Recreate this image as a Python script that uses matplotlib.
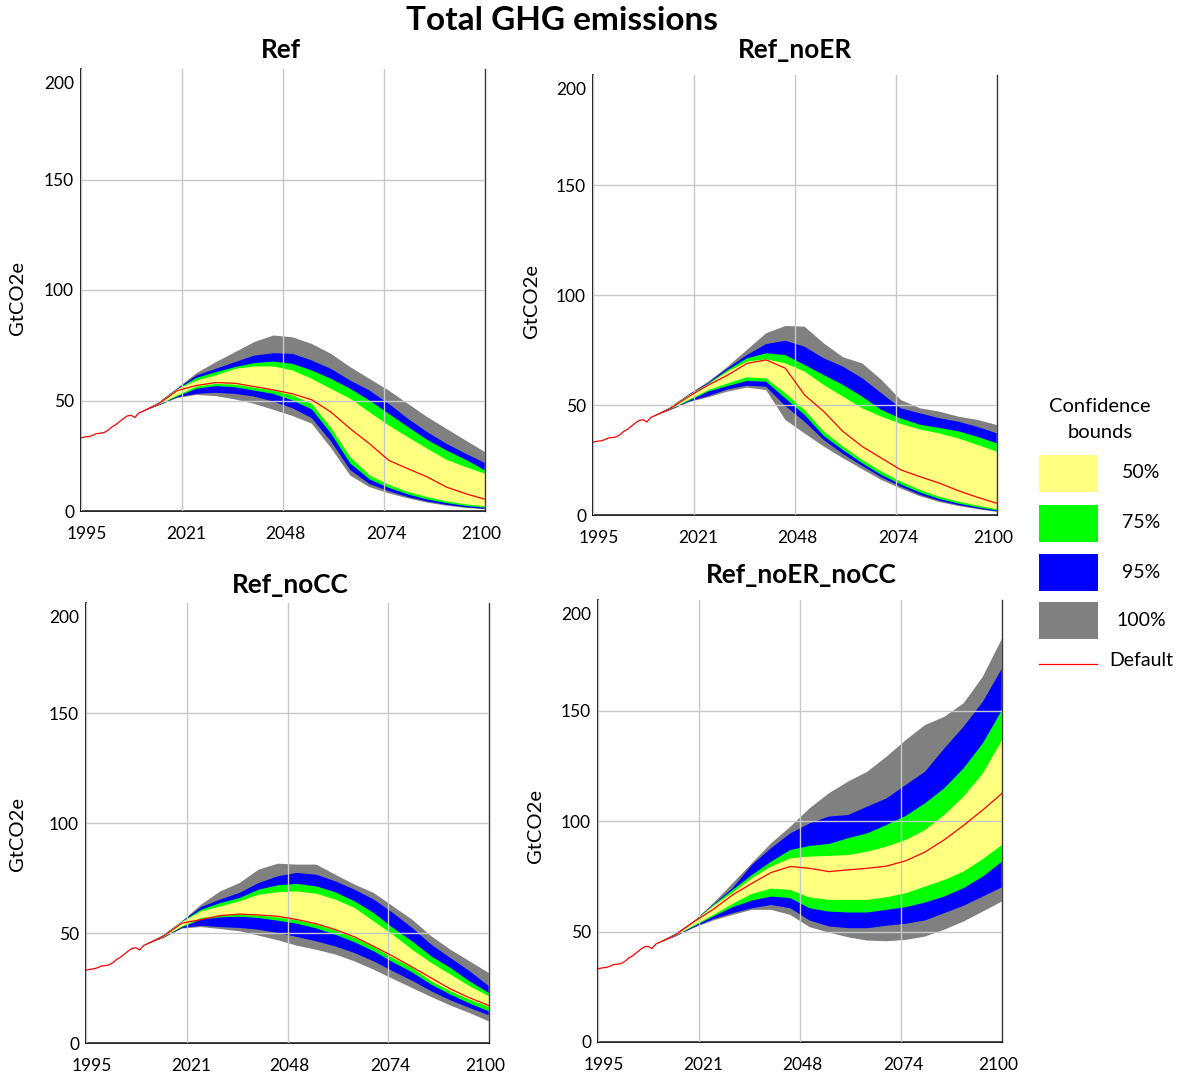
import numpy as np
import matplotlib
matplotlib.use('Agg')
import matplotlib.pyplot as plt
from matplotlib.patches import Rectangle
from matplotlib.transforms import ScaledTranslation

plt.rcParams['font.family'] = ['Lato', 'DejaVu Sans']

# historical emissions, shared by every run (GtCO2e)
hist_years = [1995, 1996, 1997, 1998, 1999, 2000, 2001, 2002, 2003, 2004,
              2005, 2006, 2007, 2008, 2009, 2010]
hist_ghg = [33.1, 33.5, 33.7, 34.2, 35.0, 35.2, 35.5, 36.5, 38.0, 39.0,
            40.4, 41.8, 43.0, 43.3, 42.3, 44.3]

proj_years = [2015, 2020, 2025, 2030, 2035, 2040, 2045, 2050, 2055, 2060,
              2065, 2070, 2075, 2080, 2085, 2090, 2095, 2100]

# Ref
ref_default = [48.3, 54.5, 56.8, 58.1, 57.8, 56.3, 54.8, 53.0, 50.3, 44.7, 37.2, 30.4, 22.9, 19.1, 15.4, 10.8, 7.8, 5.3]
ref_hi50 = [48.6, 55.0, 59.0, 61.3, 64.3, 65.4, 65.4, 63.6, 59.8, 55.3, 50.8, 44.7, 38.7, 33.4, 28.2, 23.2, 19.9, 16.9]
ref_hi75 = [48.7, 55.1, 60.2, 62.8, 65.1, 66.9, 67.6, 66.6, 63.6, 59.8, 55.3, 50.0, 44.0, 38.0, 32.2, 27.4, 23.2, 18.4]
ref_hi95 = [48.8, 55.3, 61.3, 64.3, 67.3, 70.3, 71.4, 71.1, 68.1, 64.3, 59.0, 54.5, 48.5, 41.7, 35.7, 30.4, 25.9, 21.7]
ref_hi100 = [48.9, 55.5, 62.3, 67.3, 71.8, 76.4, 79.4, 78.6, 75.6, 71.1, 65.1, 59.8, 54.5, 48.5, 42.5, 37.2, 31.9, 26.7]
ref_lo50 = [48.0, 52.3, 56.3, 57.5, 57.2, 55.8, 54.5, 52.3, 48.5, 37.5, 24.4, 16.1, 11.9, 8.6, 6.3, 4.4, 3.0, 2.1]
ref_lo75 = [47.9, 51.8, 55.3, 56.5, 56.0, 54.5, 53.0, 50.0, 46.0, 35.0, 21.5, 14.3, 10.5, 7.5, 5.2, 3.6, 2.3, 1.5]
ref_lo95 = [47.7, 51.4, 53.0, 53.5, 53.0, 51.8, 49.5, 46.5, 42.0, 31.5, 18.5, 12.2, 9.0, 6.3, 4.3, 2.8, 1.7, 1.0]
ref_lo100 = [47.6, 51.1, 52.5, 52.0, 50.5, 48.5, 45.8, 43.0, 39.5, 28.5, 16.0, 10.8, 8.0, 5.7, 3.8, 2.4, 1.4, 0.8]

# Ref_noER
noer_default = [48.3, 54.0, 59.1, 63.6, 68.9, 70.5, 66.7, 54.5, 47.0, 37.9, 31.1, 25.8, 20.5, 17.4, 14.5, 11.0, 8.0, 5.3]
noer_hi50 = [48.6, 54.5, 59.5, 65.2, 69.7, 70.8, 68.9, 65.2, 59.1, 53.8, 48.5, 44.7, 41.4, 38.9, 37.1, 34.8, 31.8, 28.8]
noer_hi75 = [48.7, 54.6, 59.8, 65.9, 71.2, 73.5, 72.7, 68.2, 63.6, 59.1, 53.8, 47.7, 43.9, 41.0, 39.6, 38.0, 35.5, 32.6]
noer_hi95 = [48.8, 54.8, 60.2, 66.7, 72.7, 77.7, 79.2, 76.5, 71.2, 67.4, 62.1, 55.3, 48.5, 46.2, 44.0, 42.4, 40.0, 37.1]
noer_hi100 = [48.9, 55.0, 60.6, 67.4, 75.0, 82.6, 85.9, 85.6, 78.0, 71.7, 68.9, 61.4, 52.3, 48.5, 47.0, 44.7, 43.2, 40.9]
noer_lo50 = [48.0, 52.5, 56.8, 59.8, 62.6, 62.1, 55.3, 47.7, 37.9, 31.1, 25.0, 19.7, 15.2, 11.4, 8.3, 6.1, 4.2, 2.7]
noer_lo75 = [47.9, 52.0, 56.1, 58.6, 60.9, 60.6, 53.0, 45.5, 35.9, 29.5, 23.5, 18.2, 13.9, 10.2, 7.3, 5.2, 3.5, 2.1]
noer_lo95 = [47.7, 51.6, 54.1, 57.1, 58.8, 58.3, 49.5, 42.4, 34.1, 27.7, 22.3, 17.1, 12.9, 9.2, 6.5, 4.5, 3.0, 1.7]
noer_lo100 = [47.6, 51.3, 53.5, 56.1, 57.9, 56.8, 43.2, 37.1, 31.1, 25.8, 20.8, 15.9, 12.0, 8.5, 5.9, 4.1, 2.6, 1.4]

# Ref_noCC
nocc_default = [48.3, 54.5, 56.1, 57.9, 58.6, 58.2, 57.6, 56.1, 54.2, 51.5, 48.2, 43.9, 39.4, 34.5, 29.5, 24.5, 20.5, 17.0]
nocc_hi50 = [48.6, 55.0, 59.8, 62.1, 64.4, 67.4, 68.6, 68.9, 67.9, 65.2, 61.4, 55.3, 49.2, 42.4, 36.4, 31.1, 25.8, 21.2]
nocc_hi75 = [48.7, 55.1, 60.6, 63.6, 65.9, 69.7, 71.7, 72.3, 71.2, 68.5, 64.4, 59.1, 52.3, 46.2, 39.4, 34.1, 28.0, 22.7]
nocc_hi95 = [48.8, 55.2, 61.8, 65.2, 68.2, 72.7, 75.8, 77.3, 76.5, 73.5, 69.7, 65.2, 59.1, 52.3, 44.7, 38.6, 32.6, 25.8]
nocc_hi100 = [48.9, 55.3, 62.9, 68.9, 72.7, 78.8, 81.5, 81.1, 81.1, 76.5, 72.0, 68.2, 62.1, 56.1, 48.5, 42.4, 37.1, 31.8]
nocc_lo50 = [48.0, 53.0, 56.8, 57.9, 58.3, 57.9, 57.1, 55.8, 53.8, 51.1, 47.7, 43.6, 38.6, 34.1, 28.0, 23.5, 19.7, 16.4]
nocc_lo75 = [47.9, 52.6, 56.1, 57.1, 57.4, 56.8, 55.6, 54.2, 52.1, 49.2, 45.8, 41.7, 36.7, 32.1, 26.5, 22.0, 17.9, 14.4]
nocc_lo95 = [47.7, 52.2, 53.3, 52.7, 52.3, 51.5, 50.0, 48.2, 46.2, 43.9, 40.9, 37.1, 32.6, 28.3, 23.5, 19.4, 15.9, 12.6]
nocc_lo100 = [47.6, 52.0, 52.7, 51.8, 50.8, 48.8, 46.7, 44.2, 42.4, 40.2, 37.1, 33.3, 29.1, 25.0, 20.9, 17.0, 13.6, 9.8]

# Ref_noER_noCC
both_default = [48.3, 54.5, 60.1, 66.6, 71.8, 76.7, 79.4, 78.6, 77.1, 77.9, 78.6, 79.6, 82.0, 86.0, 91.5, 98.0, 105.0, 112.5]
both_hi50 = [48.6, 54.5, 61.6, 67.6, 74.1, 79.4, 83.1, 83.9, 84.2, 84.6, 86.1, 88.4, 91.4, 95.9, 102.7, 111.0, 121.5, 136.6]
both_hi75 = [48.7, 54.6, 62.0, 68.8, 75.6, 81.6, 86.9, 88.7, 89.6, 92.2, 94.4, 98.2, 102.3, 108.0, 114.8, 123.8, 135.1, 150.2]
both_hi95 = [48.8, 54.7, 62.3, 69.6, 80.1, 87.7, 94.4, 98.9, 102.0, 102.7, 106.5, 110.2, 116.3, 122.3, 132.8, 142.6, 153.9, 169.0]
both_hi100 = [48.9, 54.8, 62.8, 71.8, 80.9, 89.9, 97.4, 105.7, 112.5, 117.8, 122.3, 129.1, 136.6, 143.4, 147.1, 153.2, 165.2, 182.5]
both_lo50 = [48.0, 52.8, 57.5, 62.5, 67.0, 69.4, 68.8, 65.4, 64.3, 64.3, 64.3, 65.5, 67.3, 70.3, 73.3, 77.1, 82.7, 89.2]
both_lo75 = [47.9, 52.4, 56.8, 61.0, 64.0, 65.8, 65.1, 60.5, 59.0, 58.6, 58.6, 59.8, 61.0, 63.1, 65.8, 69.6, 74.8, 81.6]
both_lo95 = [47.7, 52.0, 55.6, 58.3, 60.5, 62.0, 60.5, 55.0, 52.3, 51.5, 51.5, 52.6, 53.5, 55.0, 58.3, 61.6, 65.8, 70.0]
both_lo100 = [47.6, 51.7, 55.0, 57.5, 59.8, 59.8, 57.5, 52.0, 49.5, 47.4, 45.9, 45.6, 46.2, 47.7, 50.8, 54.5, 59.0, 63.6]

band_labels = ['100%', '95%', '75%', '50%']
band_colors = ['#808080', '#0000ff', '#00ff00', '#ffff80']
line_color = '#ff0000'

runs = [
    ('Ref', ref_default, [(ref_lo100, ref_hi100), (ref_lo95, ref_hi95), (ref_lo75, ref_hi75), (ref_lo50, ref_hi50)]),
    ('Ref_noER', noer_default, [(noer_lo100, noer_hi100), (noer_lo95, noer_hi95), (noer_lo75, noer_hi75), (noer_lo50, noer_hi50)]),
    ('Ref_noCC', nocc_default, [(nocc_lo100, nocc_hi100), (nocc_lo95, nocc_hi95), (nocc_lo75, nocc_hi75), (nocc_lo50, nocc_hi50)]),
    ('Ref_noER_noCC', both_default, [(both_lo100, both_hi100), (both_lo95, both_hi95), (both_lo75, both_hi75), (both_lo50, both_hi50)]),
]

W, H = 1186, 1081
fig = plt.figure(figsize=(W / 100, H / 100), dpi=100)

# panel boxes in pixels: left, right, top, bottom
boxes = [(81, 485, 69, 511), (593, 997, 75, 515), (86, 489, 603, 1043), (598, 1002, 600, 1042)]
title_pos = [(281, 50), (795, 50), (290, 585), (801, 575)]
ylab_pos = [(18, 298), (532, 301), (18, 834), (535, 826)]

xt = [1995, 2021.25, 2047.5, 2073.75, 2100]
xtl = ['1995', '2021', '2048', '2074', '2100']
xtl_shift = [6, 4, 2, 2, -4]   # horizontal nudge of each year label, px

band_years = np.r_[hist_years[-1], proj_years]
line_years = np.r_[hist_years, proj_years]

for (name, default, bands), (l, r, t, b), (tx, ty), (lx, ly) in zip(runs, boxes, title_pos, ylab_pos):
    ax = fig.add_axes([l / W, 1 - b / H, (r - l) / W, (b - t) / H])
    for (lo, hi), col in zip(bands, band_colors):
        ax.fill_between(band_years, np.r_[hist_ghg[-1], lo], np.r_[hist_ghg[-1], hi],
                        facecolor=col, edgecolor='none', lw=0, zorder=1)
    ax.plot(line_years, np.r_[hist_ghg, default], color=line_color, lw=0.9, zorder=3)

    ax.set_xlim(1995, 2100)
    ax.set_ylim(0, 200)
    ax.set_xticks(xt)
    ax.set_xticklabels(xtl)
    ax.set_yticks([0, 50, 100, 150])
    ax.tick_params(length=0, labelsize=12.5)
    ax.tick_params(axis='x', pad=11)
    ax.tick_params(axis='y', pad=5)
    ax.grid(True, color='#c8c8c8', lw=1)
    ax.set_axisbelow(False)
    ax.annotate('200', xy=(0, 200), xycoords=('axes fraction', 'data'), xytext=(-7, -15),
                textcoords='offset pixels', ha='right', va='center', fontsize=12.5)
    for lab, dx in zip(ax.get_xticklabels(), xtl_shift):
        lab.set_transform(lab.get_transform() + ScaledTranslation(dx / 100, 0, fig.dpi_scale_trans))

    for s in ['left', 'bottom']:
        ax.spines[s].set_color('black')
        ax.spines[s].set_linewidth(1.2)
    ax.spines['right'].set_color('#3a3a3a')
    ax.spines['right'].set_linewidth(1.0)
    ax.spines['top'].set_visible(False)

    fig.text(tx / W, 1 - ty / H, name, ha='center', va='center', fontsize=18.8, fontweight='bold')
    fig.text(lx / W, 1 - ly / H, 'GtCO2e', ha='center', va='center', rotation=90, fontsize=14.5)

fig.text(562 / W, 1 - 20 / H, 'Total GHG emissions', ha='center', va='center',
         fontsize=24, fontweight='bold')

# legend drawn in pixel space
lg = fig.add_axes([0, 0, 1, 1])
lg.set_xlim(0, W)
lg.set_ylim(H, 0)
lg.axis('off')
lg.text(1100, 406, 'Confidence', ha='center', va='center', fontsize=14.5)
lg.text(1100, 433, 'bounds', ha='center', va='center', fontsize=14.5)
sw_top = [455, 505, 554, 602]
for lab, col, y0 in zip(band_labels[::-1], band_colors[::-1], sw_top):
    lg.add_patch(Rectangle((1039, y0), 59, 37, facecolor=col, edgecolor='none'))
    lg.text(1141, y0 + 18, lab, ha='center', va='center', fontsize=14)
lg.plot([1039, 1097], [664, 664], color=line_color, lw=0.9)
lg.text(1109, 661, 'Default', ha='left', va='center', fontsize=14)

fig.savefig('out.png', dpi=100)
